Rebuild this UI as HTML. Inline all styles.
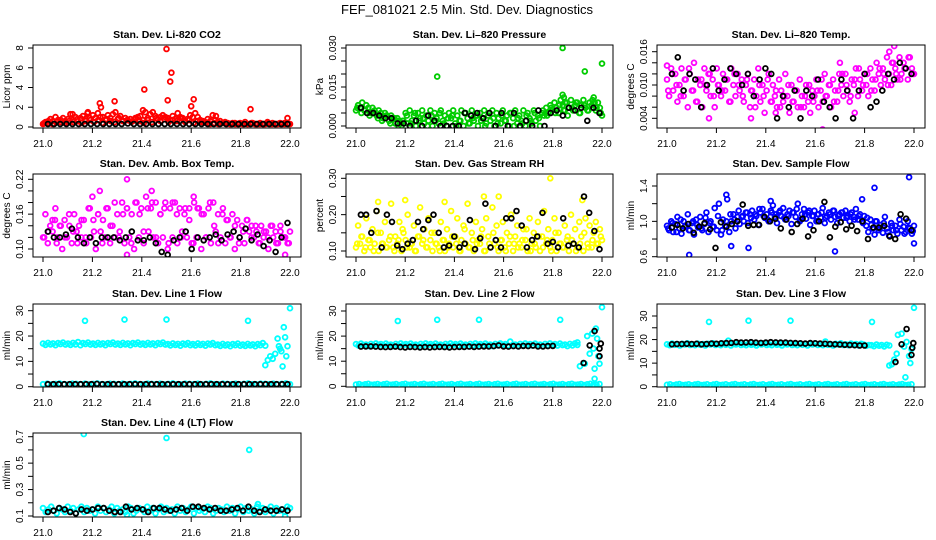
<!DOCTYPE html>
<html><head><meta charset="utf-8"><title>FEF_081021 2.5 Min. Std. Dev. Diagnostics</title>
<style>
html,body{margin:0;padding:0;background:#fff;}
svg{display:block;font-family:"Liberation Sans",sans-serif;}
</style></head>
<body>
<svg id="chart" width="936" height="540" viewBox="0 0 936 540">
<text x="467" y="14" font-size="13" text-anchor="middle">FEF_081021  2.5 Min. Std. Dev. Diagnostics</text>
</svg>
<script>
// ---------- data ----------
const xTicks=[21.0,21.2,21.4,21.6,21.8,22.0];
const xTickLabels=["21.0","21.2","21.4","21.6","21.8","22.0"];

const co2Red=[0.3,0.5,0.4,0.8,0.6,1.0,0.7,0.5,0.9,0.6,0.8,1.3,0.7,1.0,0.6,0.9,1.1,0.8,1.5,0.7,1.2,0.9,1.4,1.0,1.0,0.7,1.2,0.9,1.3,1.5,0.8,1.1,0.6,0.9,0.7,0.8,0.6,0.9,1.0,1.1,0.7,1.5,0.9,1.3,1.5,1.1,0.8,1.0,1.2,1.0,0.9,0.7,1.1,0.8,1.4,1.0,0.9,0.6,0.8,1.2,1.0,1.4,1.0,0.7,0.6,0.5,0.8,0.6,1.2,0.7,0.5,0.6,0.4,0.5,0.4,0.3,0.4,0.3,0.3,0.4,0.3,0.5,0.3,0.3,0.4,0.3,0.3,0.4,0.3,0.3,0.5,0.3,0.4,0.3,0.3,0.4,0.3,0.3,0.9,0.3];
const co2Red2=[0.4,0.6,0.3,0.5,0.7,0.4,0.6,0.5,0.8,0.4,0.6,0.9,0.5,0.7,0.4,0.8,0.6,0.5,0.9,0.6,0.7,0.5,0.8,0.6,0.4,0.7,0.5,0.9,0.6,0.8,0.5,0.7,0.6,0.9,0.5,0.7,0.4,0.6,0.5,0.4,0.3,0.4,0.3,0.4,0.3,0.3,0.4,0.3,0.3,0.3,0.4,0.3,0.3,0.3,0.4,0.3,0.3,0.3,0.4,0.3];
const co2OutX=[21.23,21.235,21.29,21.405,21.41,21.5,21.52,21.515,21.505,21.61,21.60,21.84,21.7,21.18,21.12];
const co2OutY=[2.4,2.0,2.6,1.7,3.8,7.9,5.5,4.6,2.7,2.8,2.1,1.8,1.1,1.4,1.3];
const co2Black=[0.3,0.3,0.3,0.3,0.3,0.3,0.3,0.3,0.3,0.3,0.3,0.3,0.3,0.35,0.3,0.3,0.3,0.3,0.3,0.3,0.3,0.3,0.3,0.3,0.3,0.3,0.3,0.3,0.3,0.3,0.3,0.3,0.3,0.3,0.3,0.3,0.3,0.3,0.3,0.3];

const presGreen=[0.006,0.008,0.007,0.009,0.006,0.008,0.007,0.005,0.007,0.006,0.004,0.006,0.005,0.003,0.005,0.004,0.002,0.004,0.003,0.001,0.003,0.002,0.0,0.002,
0.005,0.001,0.006,0.002,0.004,0.0,0.005,0.003,0.006,0.001,0.004,0.002,0.006,0.0,0.005,0.003,0.001,0.006,0.002,0.004,0.0,0.005,0.003,0.006,0.001,0.004,0.002,0.006,0.0,0.005,0.003,0.001,0.006,0.002,0.004,0.0,0.005,0.003,0.006,0.001,0.004,0.002,0.006,0.0,0.005,0.003,0.001,0.006,0.002,0.004,0.0,0.005,0.003,0.006,0.001,0.004,0.002,0.006,0.0,0.005,0.003,0.001,0.006,0.002,0.004,0.0,0.005,
0.004,0.007,0.005,0.008,0.006,0.009,0.007,0.005,0.010,0.008,0.006,0.009,0.007,0.010,0.006,0.008,0.009,0.005,0.008,0.010,0.007,0.006,0.009,0.008,0.011,0.006,0.009,0.007,0.004];
const presGreen2=[0.007,0.005,0.006,0.004,0.005,0.003,0.002,0.004,0.001,0.003,0.000,0.002,0.004,0.001,0.005,0.002,0.003,0.000,0.004,0.002,0.005,0.001,0.003,0.004,0.000,0.002,0.005,0.001,0.003,0.004,0.002,0.000,0.005,0.003,0.001,0.004,0.002,0.005,0.000,0.003,0.001,0.004,0.002,0.005,0.003,0.006,0.004,0.007,0.005,0.008,0.006,0.004,0.007,0.009,0.005,0.008,0.006,0.010,0.007,0.005];
const presOutX=[21.33,21.84,21.93,22.0,21.84,21.845,21.85,21.97];
const presOutY=[0.019,0.030,0.021,0.024,0.012,0.011,0.009,0.009];
const presBlack=[0.007,0.005,0.005,0.004,0.003,0.003,0.001,0.001,0.0,0.002,0.0,0.004,0.002,0.0,0.0,0.0,0.0,0.005,0.004,0.005,0.003,0.005,0.0,0.005,0.0,0.005,0.0,0.002,0.0,0.006,0.0,0.005,0.006,0.004,0.007,0.006,0.007,0.002,0.007,0.005];

const tempMag=[0.011,0.008,0.013,0.009,0.012,0.007,0.010,0.013,0.008,0.011,0.006,0.012,0.009,0.014,0.007,0.011,0.010,0.006,0.013,0.009,0.012,0.008,0.011,0.006,0.013,0.010,0.008,0.012,0.009,0.011,0.007,0.013,0.010,0.008,0.012,0.009,
0.011,0.007,0.010,0.012,0.006,0.009,0.011,0.008,0.013,0.007,0.010,0.005,0.009,0.012,0.007,0.010,0.008,0.006,0.011,0.009,0.007,0.012,0.008,0.005,0.010,0.007,0.009,0.006,0.011,0.008,0.006,0.010,0.007,0.005,0.009,0.008,0.011,0.006,0.009,0.007,0.012,0.008,0.010,0.006,0.011,0.009,0.007,0.012,
0.010,0.008,0.012,0.009,0.007,0.011,0.010,0.013,0.008,0.011,0.009,0.012,0.010,0.008,0.013,0.011,0.009,0.014,0.012,0.010,0.013,0.011,0.015,0.012,0.010,0.014,0.013,0.011,0.015,0.012,0.014,0.013,0.011,0.015,0.013,0.012];
const tempMag2=[0.009,0.012,0.010,0.008,0.011,0.013,0.009,0.007,0.011,0.010,0.012,0.008,0.010,0.009,0.011,0.007,0.012,0.010,0.008,0.011,0.009,0.006,0.010,0.008,0.011,0.007,0.009,0.006,0.008,0.010,0.007,0.009,0.006,0.008,0.010,0.007,0.009,0.011,0.008,0.010,0.007,0.009,0.012,0.010,0.008,0.011,0.013,0.010,0.012,0.009,0.011,0.013,0.012,0.010,0.014,0.012,0.011,0.013,0.015,0.012];
const tempOutX=[21.17,21.34,21.63,21.7,21.92,21.76,21.44,21.0,21.9];
const tempOutY=[0.004,0.004,0.002,0.014,0.017,0.005,0.005,0.0135,0.016];
const tempBlack=[0.012,0.015,0.009,0.012,0.011,0.006,0.010,0.013,0.009,0.011,0.013,0.012,0.010,0.012,0.008,0.011,0.013,0.012,0.004,0.008,0.006,0.009,0.004,0.009,0.008,0.011,0.007,0.006,0.004,0.011,0.009,0.004,0.009,0.012,0.006,0.007,0.009,0.012,0.011,0.014,0.013,0.012];

const ambMag=[0.12,0.16,0.11,0.14,0.13,0.15,0.12,0.14,0.10,0.15,0.12,0.14,0.11,0.16,0.13,0.14,0.12,0.15,0.11,0.17,0.12,0.15,0.10,0.16,0.13,0.15,0.12,0.17,0.11,0.14,0.12,0.16,0.13,0.18,0.11,0.17,0.12,0.16,0.10,0.18,0.12,0.17,0.11,0.19,0.13,0.17,0.12,0.18,0.11,0.16,0.12,0.18,0.10,0.17,0.12,0.18,0.11,0.17,0.13,0.16,0.12,0.17,0.11,0.18,0.12,0.17,0.10,0.16,0.12,0.17,0.11,0.18,0.13,0.16,0.12,0.17,0.11,0.15,0.12,0.16,0.10,0.15,0.12,0.14,0.11,0.15,0.13,0.14,0.12,0.13,0.11,0.14,0.12,0.13,0.10,0.14,0.12,0.13,0.11,0.14,0.12,0.12,0.11,0.13];
const ambMag2=[0.12,0.13,0.15,0.11,0.14,0.12,0.16,0.13,0.11,0.15,0.12,0.17,0.13,0.16,0.11,0.17,0.14,0.18,0.12,0.16,0.17,0.11,0.18,0.16,0.13,0.17,0.18,0.12,0.16,0.17,0.11,0.18,0.16,0.12,0.17,0.15,0.11,0.17,0.16,0.12,0.18,0.14,0.11,0.16,0.15,0.12,0.14,0.11,0.13,0.15,0.12,0.14,0.11,0.13,0.12,0.14,0.11,0.13,0.12,0.11];
const ambOutX=[21.34,21.23,21.44,21.05,21.98,21.34,21.2,21.61];
const ambOutY=[0.22,0.20,0.20,0.17,0.09,0.09,0.19,0.19];
const ambBlack=[0.13,0.12,0.12,0.125,0.135,0.12,0.11,0.12,0.11,0.12,0.12,0.12,0.115,0.12,0.13,0.115,0.115,0.12,0.11,0.095,0.09,0.115,0.12,0.13,0.10,0.12,0.115,0.12,0.125,0.115,0.125,0.13,0.12,0.135,0.115,0.125,0.105,0.115,0.095,0.12,0.145];

const rhYellow=[0.11,0.17,0.12,0.14,0.10,0.19,0.13,0.11,0.16,0.12,0.21,0.10,0.15,0.12,0.18,0.11,0.13,0.23,0.11,0.14,
0.12,0.18,0.10,0.15,0.13,0.20,0.11,0.12,0.17,0.10,0.14,0.22,0.12,0.16,0.11,0.19,0.13,0.10,0.15,0.12,
0.11,0.18,0.13,0.10,0.16,0.12,0.21,0.11,0.14,0.19,0.10,0.13,0.17,0.12,0.23,0.11,0.15,0.10,0.18,0.13,
0.12,0.16,0.10,0.19,0.14,0.11,0.22,0.12,0.17,0.10,0.13,0.18,0.11,0.15,0.12,0.20,0.10,0.14,0.17,0.12,
0.11,0.16,0.13,0.10,0.19,0.12,0.15,0.11,0.18,0.10,0.14,0.21,0.12,0.16,0.11,0.13,0.19,0.10,0.15,0.12,
0.11,0.17,0.13,0.10,0.20,0.12,0.16,0.11,0.18,0.14,0.10,0.19,0.12,0.17,0.11,0.15,0.18,0.12,0.16,0.13];
const rhYellow2=[0.12,0.14,0.11,0.13,0.10,0.15,0.12,0.11,0.14,0.10,0.13,0.16,0.11,0.12,0.10,0.14,0.13,0.11,0.15,0.12,0.10,0.13,0.11,0.14,0.12,0.10,0.16,0.11,0.13,0.12,0.14,0.10,0.12,0.15,0.11,0.13,0.10,0.14,0.12,0.11,0.13,0.16,0.10,0.12,0.14,0.11,0.13,0.10,0.15,0.12,0.11,0.14,0.13,0.10,0.12,0.15,0.11,0.13,0.12,0.14];
const rhOutX=[21.79,21.52,21.58,21.2,21.92,21.09,21.36];
const rhOutY=[0.30,0.25,0.25,0.24,0.24,0.235,0.235];
const rhBlack=[0.20,0.20,0.15,0.21,0.11,0.20,0.18,0.115,0.105,0.12,0.13,0.18,0.16,0.185,0.20,0.15,0.11,0.115,0.14,0.11,0.12,0.185,0.105,0.135,0.23,0.11,0.13,0.11,0.19,0.19,0.21,0.17,0.11,0.13,0.14,0.205,0.12,0.125,0.11,0.19,0.115,0.12,0.11,0.25,0.205,0.155,0.105];

const flowBlue=[0.95,0.90,1.00,0.88,0.97,1.05,0.92,0.86,1.00,0.95,1.08,0.90,0.98,0.85,1.02,0.93,1.05,0.90,0.97,1.10,0.88,1.00,0.94,1.15,0.90,1.20,0.85,1.02,0.95,1.25,0.88,1.00,1.08,0.92,1.05,0.97,
1.05,1.00,1.10,0.98,1.08,1.12,1.02,1.06,0.96,1.10,1.14,1.04,1.08,1.00,1.12,1.18,1.05,0.98,1.10,1.06,1.15,1.02,1.08,1.12,0.97,1.10,1.05,1.20,1.00,1.08,1.14,1.03,1.10,0.96,1.06,1.12,1.00,1.08,1.04,1.15,0.98,1.06,1.10,1.02,1.12,1.05,0.98,1.08,1.10,1.04,1.12,1.06,1.00,1.10,1.05,1.14,1.02,1.08,1.00,1.06,
0.95,0.88,1.02,0.92,0.85,1.00,0.90,0.96,0.87,1.05,0.92,0.84,0.98,0.90,0.95,0.86,1.02,0.90,0.94,0.88,1.00,0.92,0.86,0.95];
const flowBlue2=[0.92,0.98,0.88,1.02,0.94,0.90,1.00,0.96,0.92,1.04,0.98,0.94,1.06,0.90,1.00,1.08,1.02,1.12,1.06,1.10,1.04,1.08,1.14,1.06,1.02,1.10,1.08,1.12,1.04,1.06,1.10,1.14,1.02,1.08,1.12,1.06,1.00,1.10,1.04,1.08,1.12,1.06,1.10,1.04,1.08,1.02,1.06,0.98,1.04,0.96,1.00,0.92,0.98,0.88,0.95,0.90,0.97,0.86,0.93,0.89];
const flowOutX=[21.09,21.26,21.33,21.68,21.84,21.98,22.0,21.24,21.79,21.42];
const flowOutY=[0.62,0.72,0.70,0.66,1.38,1.50,0.75,1.30,1.25,1.23];
const flowBlack=[0.93,0.96,0.92,0.97,0.87,0.94,0.98,0.91,0.70,0.99,0.94,0.97,1.0,1.19,0.95,0.96,0.96,1.05,1.0,1.03,0.92,1.02,0.88,0.97,1.03,0.83,0.90,1.0,1.22,0.82,0.94,0.99,0.91,0.95,0.89,1.0,0.80,0.93,0.93,0.95,0.83,0.80,1.08,1.03,0.90];

const l1Band=[17.0,16.5,17.3,16.7,17.1,16.4,17.2,16.8,17.4,16.6,17.0,16.5,17.3,16.7,17.6,16.4,17.2,16.8,17.4,16.6,17.0,16.5,17.3,16.7,17.1,16.4,17.2,16.8,17.4,16.6,17.0,16.5,17.3,16.7,17.1,16.4,17.2,16.8,17.4,16.6,17.0,16.5,17.3,16.7,17.1,16.4,17.2,16.8,17.4,16.6,16.8,16.3,17.1,16.5,16.9,16.2,17.0,16.6,17.2,16.4,16.8,16.3,17.1,16.5,16.9,16.2,17.0,16.6,17.2,16.4,16.6,16.1,16.9,16.3,16.7,16.0,16.8,16.4,17.0,16.2,16.6,16.1,16.9,16.3,16.7,16.0,16.8,16.4,17.2,16.2];
const l1EndX=[21.9,21.91,21.92,21.93,21.94,21.95,21.96,21.97,21.975,21.98,21.985,21.99,21.965,21.955,22.0,21.17,21.33,21.5,21.83];
const l1EndY=[8.5,10.5,12,11,13,19,15,8,23.5,19.5,12,16,14,16,31,26,26.5,26.5,26];
const l1Low=[1.0,1.2,0.9,1.1,1.3,1.0,0.9,1.2,1.1,1.0,1.2,0.9,1.1,1.3,1.0,0.9,1.2,1.1,1.0,1.2,0.9,1.1,1.3,1.0,0.9,1.2,1.1,1.0,1.2,0.9,1.1,1.3,1.0,0.9,1.2,1.1,1.0,1.2,0.9,1.1,1.3,1.0,0.9,1.2,1.1,1.0,1.2,0.9,1.1,1.3,1.0,0.9,1.2,1.1,1.0,1.2,0.9,1.1,1.3,1.0];
const l1Black=[1.0,1.0,1.0,1.0,1.0,1.0,1.0,1.0,1.0,1.1,1.0,1.0,1.0,1.0,1.0,1.0,1.0,1.0,1.0,1.0,1.0,1.0,1.0,1.0,1.0,1.0,1.0,1.0,1.0,1.0,1.0,1.0,1.0,1.0,1.0,1.0,1.0,1.0,1.0,1.0,1.0,1.0,1.0,1.0,1.0];

const l2Band=[16.8,16.2,17.0,16.4,16.6,16.0,16.9,16.3,17.1,16.5,16.8,16.2,17.0,16.4,16.6,16.0,16.9,16.3,17.1,16.5,16.8,16.2,17.0,16.4,16.6,16.0,16.9,16.3,17.1,16.5,16.8,16.2,17.0,16.4,16.6,16.0,16.9,16.3,17.1,16.5,16.8,16.2,17.0,16.4,16.6,16.0,16.9,16.3,17.1,16.5,16.8,16.2,17.0,16.4,16.6,16.0,16.9,16.3,17.1,16.5,16.8,16.2,17.8,16.4,16.6,16.0,16.9,16.3,17.1,16.5,16.8,16.2,17.0,16.4,16.6,16.0,16.9,16.3,17.1,16.5,16.8,16.2,17.0,16.4,16.6,16.0,16.9,16.3,17.1,16.5];
const l2EndX=[21.91,21.93,21.94,21.95,21.96,21.965,21.97,21.975,21.98,21.985,21.99,21.97,22.0,21.17,21.33,21.5,21.83,21.9];
const l2EndY=[8,9,20,13,21,15,7,23,19,12,9,3,31.5,26,26.5,26.5,26.5,17.5];
const l2Low=[0.7,0.9,0.5,0.8,1.0,0.6,0.7,0.9,0.5,0.8,1.0,0.6,0.7,0.9,0.5,0.8,1.0,0.6,0.7,0.9,0.5,0.8,1.0,0.6,0.7,0.9,0.5,0.8,1.0,0.6,0.7,0.9,0.5,0.8,1.0,0.6,0.7,0.9,0.5,0.8,1.0,0.6,0.7,0.9,0.5,0.8,1.0,0.6,0.7,0.9,0.5,0.8,1.0,0.6,0.7,0.9,0.5,0.8,1.0,0.6,0.7,0.9,0.5,0.8,1.0,0.6,0.7,0.9,0.5,0.8,1.0,0.6,0.7,0.9,0.5,0.8,1.0,0.6,0.7,0.9];
const l2BlackX=[21.02,21.04,21.06,21.08,21.1,21.12,21.14,21.16,21.18,21.2,21.22,21.24,21.26,21.28,21.3,21.32,21.34,21.36,21.38,21.4,21.42,21.44,21.46,21.48,21.5,21.52,21.54,21.56,21.58,21.6,21.62,21.64,21.66,21.68,21.7,21.72,21.74,21.76,21.78,21.8,21.925,21.95,21.97,21.99,21.995,21.99];
const l2Black=[15.8,15.9,15.9,15.8,15.7,15.6,15.7,15.8,15.6,15.5,15.7,15.6,15.5,15.6,15.5,15.6,15.7,15.6,15.5,15.6,15.7,15.7,15.8,15.7,15.8,15.9,15.9,16.0,16.3,15.9,15.8,16.0,15.9,16.1,16.0,16.2,15.9,15.9,16.0,16.1,9.3,16.3,22,15,17,12];

const l3Band=[18.0,17.6,18.3,17.8,18.1,17.5,18.2,17.9,18.4,17.7,18.0,17.6,18.3,17.8,18.1,17.5,18.2,17.9,18.4,17.7,18.0,17.6,18.3,17.8,19.5,17.5,18.2,17.9,18.4,17.7,18.0,17.6,18.3,17.8,18.1,17.5,18.2,17.9,18.4,17.7,18.0,17.6,18.3,17.8,18.1,17.5,18.2,17.9,18.4,17.7,18.0,17.6,18.3,17.8,18.1,17.5,18.2,17.9,18.4,17.7,18.0,17.6,19.2,17.8,18.1,17.5,18.2,17.9,18.4,17.7,18.0,17.6,18.3,17.8,18.1,17.5,18.2,17.9,17.4,17.7,17.6,17.2,17.9,17.4,17.7,17.1,17.8,17.5];
const l3EndX=[21.9,21.91,21.92,21.93,21.935,21.95,21.96,21.965,21.97,21.98,21.985,21.99,21.17,21.33,21.5,21.83,22.0];
const l3EndY=[9,9.5,11.5,14,22,22.5,17,4,19,13,10,16,27.5,28,28,27.5,33.5];
const l3Low=[0.8,1.0,0.6,0.9,1.1,0.7,0.8,1.0,0.6,0.9,1.1,0.7,0.8,1.0,0.6,0.9,1.1,0.7,0.8,1.0,0.6,0.9,1.1,0.7,0.8,1.0,0.6,0.9,1.1,0.7,0.8,1.0,0.6,0.9,1.1,0.7,0.8,1.0,0.6,0.9,1.1,0.7,0.8,1.0,0.6,0.9,1.1,0.7,0.8,1.0,0.6,0.9,1.1,0.7,0.8,1.0,0.6,0.9,1.1,0.7,0.8,1.0,0.6,0.9,1.1,0.7,0.8,1.0,0.6,0.9,1.1,0.7,0.8,1.0,0.6,0.9,1.1,0.7,0.8,1.0];
const l3BlackX=[21.02,21.04,21.06,21.08,21.1,21.12,21.14,21.16,21.18,21.2,21.22,21.24,21.26,21.28,21.3,21.32,21.34,21.36,21.38,21.4,21.42,21.44,21.46,21.48,21.5,21.52,21.54,21.56,21.58,21.6,21.62,21.64,21.66,21.68,21.7,21.72,21.74,21.76,21.78,21.8,21.925,21.95,21.97,21.99,21.993,21.997];
const l3Black=[18.0,18.1,18.1,18.2,18.1,18.2,18.0,18.1,18.3,18.2,18.4,18.5,18.6,18.9,18.7,18.8,18.9,18.7,18.6,18.7,18.9,18.8,18.7,18.7,18.6,18.5,18.4,18.3,18.5,18.4,18.3,18.2,18.1,18.0,17.9,17.8,17.7,17.6,17.5,17.5,10.5,18.0,24.5,13.5,16.5,18.5];

const l4Band=[0.16,0.13,0.15,0.17,0.14,0.12,0.16,0.15,0.13,0.17,0.14,0.16,0.12,0.15,0.17,0.13,0.16,0.14,0.15,0.12,0.17,0.14,0.16,0.13,0.15,0.17,0.12,0.16,0.14,0.15,0.13,0.17,0.16,0.12,0.14,0.16,0.15,0.13,0.17,0.14,0.16,0.12,0.15,0.17,0.13,0.16,0.14,0.15,0.12,0.17,0.14,0.16,0.13,0.15,0.17,0.12,0.16,0.14,0.15,0.13,0.17,0.16,0.12,0.14,0.16,0.15,0.13,0.17,0.14,0.16,0.12,0.15,0.17,0.13,0.16,0.14,0.15,0.12,0.17,0.14,0.16,0.13,0.15,0.17,0.12,0.16,0.14,0.15,0.13,0.17,0.16];
const l4OutX=[21.165,21.5,21.835,21.98,21.87,21.34];
const l4OutY=[0.72,0.69,0.60,0.10,0.19,0.11];
const l4Black=[0.13,0.14,0.16,0.15,0.13,0.12,0.15,0.14,0.15,0.16,0.16,0.14,0.13,0.13,0.17,0.15,0.16,0.15,0.13,0.16,0.16,0.15,0.14,0.15,0.16,0.14,0.17,0.17,0.16,0.15,0.16,0.14,0.14,0.15,0.16,0.14,0.17,0.14,0.13,0.15,0.14,0.14,0.15,0.14];

// ---------- layout (not data) ----------
const cols=[{a:43,b:290},{a:356,b:602},{a:667,b:914}];
const rows=[{t:45,b:128},{t:174,b:257},{t:304,b:387},{t:433,b:517}];
const NS="http://www.w3.org/2000/svg";
const svg=document.getElementById("chart");

function mk(tag,attrs,parent){
  const el=document.createElementNS(NS,tag);
  for(const k in attrs) el.setAttribute(k,attrs[k]);
  (parent||svg).appendChild(el);
  return el;
}

function panel(p){
  const c=cols[p.col], r=rows[p.row];
  const L=c.a-10, R=c.b+11;
  const g=mk("g",{});
  
  
  const sx=v=>c.a+(v-21)*(c.b-c.a);
  const sy=v=>p.cal[1]+(v-p.cal[0])*(p.cal[3]-p.cal[1])/(p.cal[2]-p.cal[0]);
  const clip="clip-"+p.name;
  const cp=mk("clipPath",{id:clip},g);
  mk("rect",{x:L,y:r.t,width:R-L,height:r.b-r.t},cp);
  const pts=mk("g",{"clip-path":"url(#"+clip+")"},g);
  
  
  function dots(xs,ys,color,nm){
    for(let i=0;i<ys.length;i++){
      const el=mk("circle",{cx:sx(xs[i]).toFixed(1),cy:sy(ys[i]).toFixed(1),r:2.4,fill:"none",stroke:color,"stroke-width":1.8},pts);
      
      
    }
  }
  function idxX(n,a,b){const o=[];for(let i=0;i<n;i++)o.push(a+(b-a)*i/Math.max(1,n-1));return o;}
  p.series.forEach(s=>{
    const xs=s.x?s.x:idxX(s.y.length,s.x0,s.x1);
    dots(xs,s.y,s.color,p.name+'-'+s.nm);
  });
  const box=mk("rect",{x:L,y:r.t,width:R-L,height:r.b-r.t,fill:"none",stroke:"#000","stroke-width":1},g);
  
  
  const xa=mk("g",{},g);
  
  
  mk("line",{x1:sx(xTicks[0]),x2:sx(xTicks[xTicks.length-1]),y1:r.b,y2:r.b,stroke:"#000"},xa);
  xTicks.forEach((t,i)=>{
    mk("line",{x1:sx(t),x2:sx(t),y1:r.b,y2:r.b+5,stroke:"#000"},xa);
    const tx=mk("text",{x:sx(t),y:r.b+19,"font-size":10,"text-anchor":"middle"},xa);
    tx.textContent=xTickLabels[i];
    
    
  });
  const ya=mk("g",{},g);
  
  
  mk("line",{x1:L,x2:L,y1:sy(p.ticks[0]),y2:sy(p.ticks[p.ticks.length-1]),stroke:"#000"},ya);
  p.ticks.forEach((t,i)=>{
    const y=sy(t);
    mk("line",{x1:L-5,x2:L,y1:y,y2:y,stroke:"#000"},ya);
    if(p.labels[i]){
      const tx=mk("text",{x:0,y:0,"font-size":10,"text-anchor":"middle",transform:"translate("+(L-10)+","+y.toFixed(1)+") rotate(-90)"},ya);
      tx.textContent=p.labels[i];
      
      
    }
  });
  const yl=mk("text",{x:0,y:0,"font-size":10,"text-anchor":"middle",transform:"translate("+(L-23)+","+((r.t+r.b)/2)+") rotate(-90)"},g);
  yl.textContent=p.ylab;
  
  
  const tt=mk("text",{x:(L+R)/2,y:r.t-7,"font-size":10.5,"font-weight":"bold","text-anchor":"middle"},g);
  tt.textContent=p.title;
  
  
}

const BX0=21.02, BX1=21.99;
panel({name:"co2",col:0,row:0,title:"Stan. Dev. Li-820 CO2",ylab:"Licor ppm",cal:[0,127,8,48],
  ticks:[0,2,4,6,8],labels:["0","2","4","6","8"],
  series:[{y:co2Red,x0:21,x1:22,color:"#ff0000",nm:"red-point"},{y:co2Red2,x0:21.005,x1:21.995,color:"#ff0000",nm:"red-point"},{x:co2OutX,y:co2OutY,color:"#ff0000",nm:"red-point"},{y:co2Black,x0:BX0,x1:BX1,color:"#000",nm:"black-point"}]});
panel({name:"pressure",col:1,row:0,title:"Stan. Dev. Li\u2013820 Pressure",ylab:"kPa",cal:[0,126,0.03,48],
  ticks:[0,0.005,0.01,0.015,0.02,0.025,0.03],labels:["0.000","","","0.015","","","0.030"],
  series:[{y:presGreen,x0:21,x1:22,color:"#00cc00",nm:"green-point"},{y:presGreen2,x0:21.005,x1:21.995,color:"#00cc00",nm:"green-point"},{x:presOutX,y:presOutY,color:"#00cc00",nm:"green-point"},{y:presBlack,x0:BX0,x1:BX1,color:"#000",nm:"black-point"}]});
panel({name:"licor-temp",col:2,row:0,title:"Stan. Dev. Li\u2013820 Temp.",ylab:"degrees C",cal:[0.016,51.7,0.004,118.3],
  ticks:[0.004,0.006,0.008,0.010,0.012,0.014,0.016],labels:["0.004","","","0.010","","","0.016"],
  series:[{y:tempMag,x0:21,x1:22,color:"#ff00ff",nm:"magenta-point"},{y:tempMag2,x0:21.005,x1:21.995,color:"#ff00ff",nm:"magenta-point"},{x:tempOutX,y:tempOutY,color:"#ff00ff",nm:"magenta-point"},{y:tempBlack,x0:BX0,x1:BX1,color:"#000",nm:"black-point"}]});
panel({name:"amb-box-temp",col:0,row:1,title:"Stan. Dev. Amb. Box Temp.",ylab:"degrees C",cal:[0.22,179.3,0.10,249],
  ticks:[0.10,0.12,0.14,0.16,0.18,0.20,0.22],labels:["0.10","","","0.16","","","0.22"],
  series:[{y:ambMag,x0:21,x1:22,color:"#ff00ff",nm:"magenta-point"},{y:ambMag2,x0:21.005,x1:21.995,color:"#ff00ff",nm:"magenta-point"},{x:ambOutX,y:ambOutY,color:"#ff00ff",nm:"magenta-point"},{y:ambBlack,x0:BX0,x1:BX1,color:"#000",nm:"black-point"}]});
panel({name:"gas-stream-rh",col:1,row:1,title:"Stan. Dev. Gas Stream RH",ylab:"percent",cal:[0.30,178.3,0.10,251],
  ticks:[0.10,0.15,0.20,0.25,0.30],labels:["0.10","","0.20","","0.30"],
  series:[{y:rhYellow,x0:21,x1:22,color:"#ffff00",nm:"yellow-point"},{y:rhYellow2,x0:21.005,x1:21.995,color:"#ffff00",nm:"yellow-point"},{x:rhOutX,y:rhOutY,color:"#ffff00",nm:"yellow-point"},{y:rhBlack,x0:BX0,x1:BX1,color:"#000",nm:"black-point"}]});
panel({name:"sample-flow",col:2,row:1,title:"Stan. Dev. Sample Flow",ylab:"ml/min",cal:[1.4,186,0.6,256.7],
  ticks:[0.6,0.8,1.0,1.2,1.4],labels:["0.6","","1.0","","1.4"],
  series:[{y:flowBlue,x0:21,x1:22,color:"#0000ff",nm:"blue-point"},{y:flowBlue2,x0:21.005,x1:21.995,color:"#0000ff",nm:"blue-point"},{x:flowOutX,y:flowOutY,color:"#0000ff",nm:"blue-point"},{y:flowBlack,x0:BX0,x1:BX1,color:"#000",nm:"black-point"}]});
panel({name:"line1-flow",col:0,row:2,title:"Stan. Dev. Line 1 Flow",ylab:"ml/min",cal:[30,310.7,0,386.7],
  ticks:[0,5,10,15,20,25,30],labels:["0","","10","","20","","30"],
  series:[{y:l1Band,x0:21,x1:21.9,color:"#00ffff",nm:"cyan-point"},{y:l1Low,x0:21,x1:22,color:"#00ffff",nm:"cyan-point"},{x:l1EndX,y:l1EndY,color:"#00ffff",nm:"cyan-point"},{y:l1Black,x0:BX0,x1:BX1,color:"#000",nm:"black-point"}]});
panel({name:"line2-flow",col:1,row:2,title:"Stan. Dev. Line 2 Flow",ylab:"ml/min",cal:[30,311,0,386.3],
  ticks:[0,5,10,15,20,25,30],labels:["0","","10","","20","","30"],
  series:[{y:l2Band,x0:21,x1:21.9,color:"#00ffff",nm:"cyan-point"},{y:l2Low,x0:21,x1:21.99,color:"#00ffff",nm:"cyan-point"},{x:l2EndX,y:l2EndY,color:"#00ffff",nm:"cyan-point"},{x:l2BlackX,y:l2Black,color:"#000",nm:"black-point"}]});
panel({name:"line3-flow",col:2,row:2,title:"Stan. Dev. Line 3 Flow",ylab:"ml/min",cal:[30,316,0,386.7],
  ticks:[0,5,10,15,20,25,30],labels:["0","","10","","20","","30"],
  series:[{y:l3Band,x0:21,x1:21.9,color:"#00ffff",nm:"cyan-point"},{y:l3Low,x0:21,x1:21.99,color:"#00ffff",nm:"cyan-point"},{x:l3EndX,y:l3EndY,color:"#00ffff",nm:"cyan-point"},{x:l3BlackX,y:l3Black,color:"#000",nm:"black-point"}]});
panel({name:"line4-lt-flow",col:0,row:3,title:"Stan. Dev. Line 4 (LT) Flow",ylab:"ml/min",cal:[0.7,436.7,0.1,516],
  ticks:[0.1,0.2,0.3,0.4,0.5,0.6,0.7],labels:["0.1","","0.3","","0.5","","0.7"],
  series:[{y:l4Band,x0:21,x1:22,color:"#00ffff",nm:"cyan-point"},{x:l4OutX,y:l4OutY,color:"#00ffff",nm:"cyan-point"},{y:l4Black,x0:BX0,x1:BX1,color:"#000",nm:"black-point"}]});
</script>
</body></html>
